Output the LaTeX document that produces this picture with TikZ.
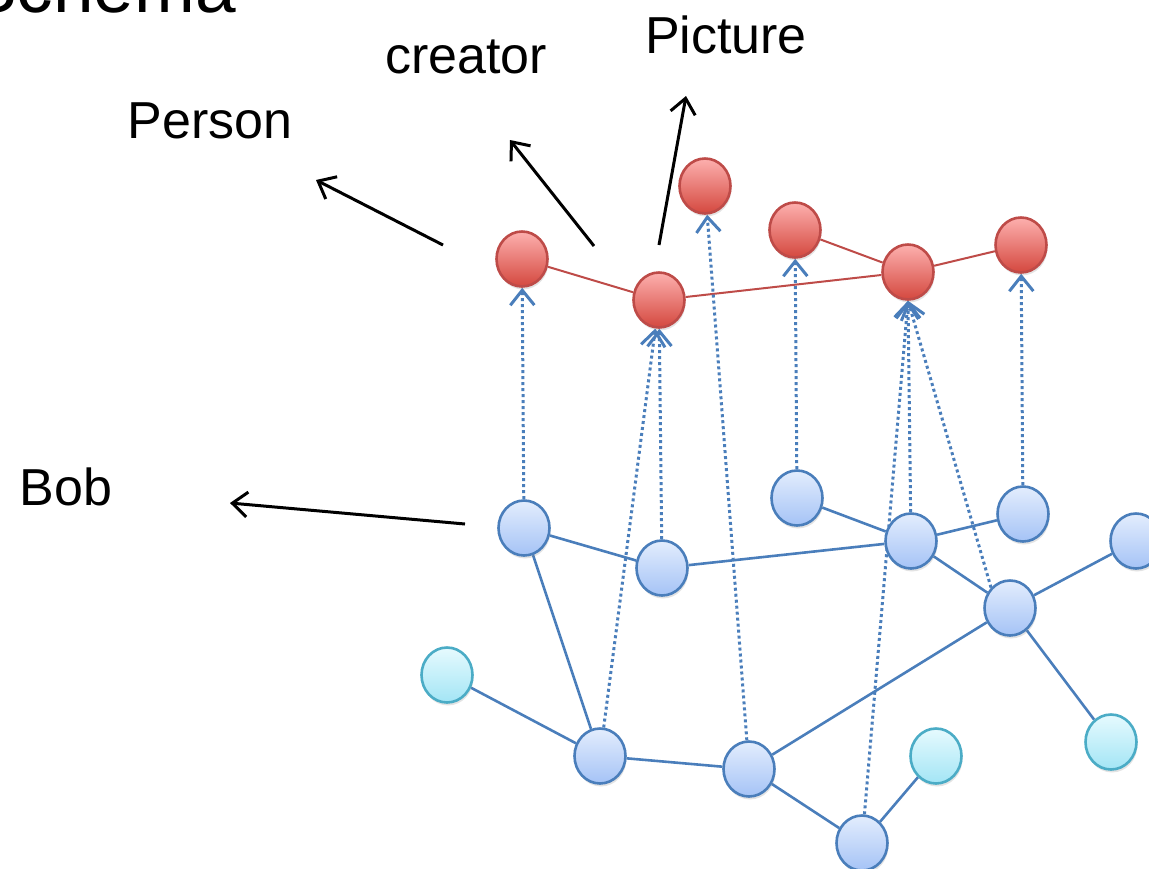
\documentclass[tikz,border=0pt]{standalone}
\usepackage{fontspec}
\setmainfont{Liberation Sans}
\usetikzlibrary{arrows.meta,shapes.geometric,shadows,backgrounds}
\definecolor{redtop}{HTML}{FDB0AE}
\definecolor{redbot}{HTML}{D4483F}
\definecolor{redline}{HTML}{BE4B48}
\definecolor{bluetop}{HTML}{E3EDFD}
\definecolor{bluebot}{HTML}{A5C3F6}
\definecolor{blueline}{HTML}{4A7EBB}
\definecolor{cyantop}{HTML}{E6FAFE}
\definecolor{cyanbot}{HTML}{A3E5F5}
\definecolor{cyanline}{HTML}{4BACC6}
\tikzset{
	vtx/.style={ellipse, draw, line width=2.6pt, minimum width=51pt, minimum height=55pt,
		inner sep=0pt, drop shadow={shadow xshift=1pt, shadow yshift=-3pt, opacity=0.22}},
	rvtx/.style={vtx, draw=redline, top color=redtop, bottom color=redbot},
	bvtx/.style={vtx, draw=blueline, top color=bluetop, bottom color=bluebot},
	cvtx/.style={vtx, draw=cyanline, top color=cyantop, bottom color=cyanbot},
	redge/.style={draw=redline, line width=2pt},
	bedge/.style={draw=blueline, line width=2.6pt},
	mapto/.style={draw=blueline, line width=3pt, dash pattern=on 3pt off 3pt,
		-{Straight Barb[length=15pt, width=24pt]}},
	ptr/.style={draw=black, line width=3pt, -{Straight Barb[length=15pt, width=25pt]}},
	lbl/.style={font=\fontsize{52}{60}\selectfont, inner sep=0pt, anchor=base},
}
\begin{document}
\begin{tikzpicture}[x=1pt, y=-1pt]
				\useasboundingbox (0,0) rectangle (1149,868);
				\clip (0,0) rectangle (1149,868);
				\node[font=\fontsize{73}{80}\selectfont, inner sep=0pt, anchor=base west] at (-32,12.5) (title) {Schema};
				\node[lbl] at (210,138) (person) {Person};
				\node[lbl] at (466,73) (creator) {creator};
				\node[lbl] at (726,53) (picture) {Picture};
				\node[lbl] at (66,505) (bob) {Bob};
				\node[rvtx] at (522,259) (r1) {};
				\node[rvtx] at (659,300) (r2) {};
				\node[rvtx] at (705,186) (r3) {};
				\node[rvtx] at (795,230) (r4) {};
				\node[rvtx] at (908,272) (r5) {};
				\node[rvtx] at (1021,245) (r6) {};
				\node[bvtx] at (524,528) (b1) {};
				\node[bvtx] at (662,568) (b2) {};
				\node[bvtx] at (797,498) (b3) {};
				\node[bvtx] at (911,541) (b4) {};
				\node[bvtx] at (1023,514) (b5) {};
				\node[bvtx] at (1010,608) (b6) {};
				\node[bvtx] at (1136,541) (b7) {};
				\node[bvtx] at (600,756) (b8) {};
				\node[bvtx] at (749,769) (b9) {};
				\node[bvtx] at (862,843) (b10) {};
				\node[cvtx] at (447,675) (c1) {};
				\node[cvtx] at (936,756) (c2) {};
				\node[cvtx] at (1111,742) (c3) {};
				\coordinate (personfrom) at (443,245);
				\coordinate (personto) at (316,180);
				\coordinate (creatorfrom) at (594,246);
				\coordinate (creatorto) at (510,140);
				\coordinate (picturefrom) at (659,245);
				\coordinate (pictureto) at (686,96);
				\coordinate (bobfrom) at (465,524);
				\coordinate (bobto) at (230,503);
				\begin{scope}[on background layer]
				\draw[redge] (r1) -- (r2) -- (r5) -- (r6);
				\draw[redge] (r4) -- (r5);
				\draw[bedge] (b1) -- (b2) -- (b4) -- (b5);
				\draw[bedge] (b3) -- (b4) -- (b6) -- (b7);
				\draw[bedge] (b1) -- (b8);
				\draw[bedge] (c1) -- (b8) -- (b9) -- (b10) -- (c2);
				\draw[bedge] (b9) -- (b6) -- (c3);
				\draw[mapto] (b1) -- (r1);
				\draw[mapto] (b8) -- (r2);
				\draw[mapto] (b2) -- (r2);
				\draw[mapto] (b9) -- (r3);
				\draw[mapto] (b3) -- (r4);
				\draw[mapto] (b10) -- (r5.south);
				\draw[mapto] (b4) -- (r5.south);
				\draw[mapto] (b6.north west) -- (r5.south);
				\draw[mapto] (b5) -- (r6);
				\end{scope}
				\draw[ptr] (personfrom) -- (personto);
				\draw[ptr] (creatorfrom) -- (creatorto);
				\draw[ptr] (picturefrom) -- (pictureto);
				\draw[ptr] (bobfrom) -- (bobto);
			\end{tikzpicture}
\end{document}
